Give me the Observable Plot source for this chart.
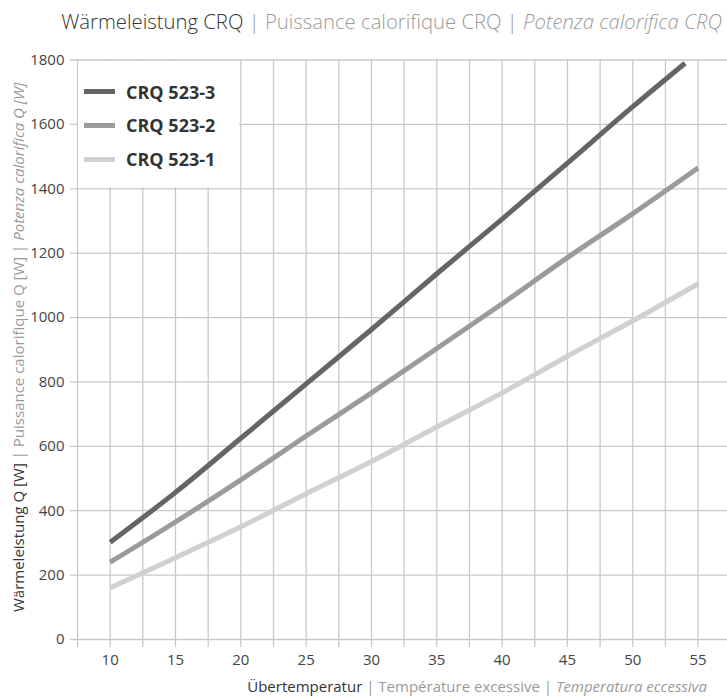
<!DOCTYPE html>
<html><head><meta charset="utf-8">
<script src="https://cdn.jsdelivr.net/npm/d3@7"></script>
<script src="https://cdn.jsdelivr.net/npm/@observablehq/plot@0.6"></script>
<style>
body{margin:0;background:#fff;font-family:"Open Sans",sans-serif;}
#wrap{position:relative;width:727px;height:699px;overflow:hidden;background:#fff;}
#wrap svg{position:absolute;left:0;top:0;}
.dark{color:#333}.grey{color:#9a9a9a}.it{font-style:italic}
#title{position:absolute;right:5px;top:8.4px;font-size:20.3px;font-weight:300;white-space:nowrap;line-height:26px;}
#xlabel{position:absolute;right:20px;top:676px;font-size:15px;white-space:nowrap;line-height:20px;}
#ylabel{position:absolute;left:8px;top:612px;font-size:15px;white-space:nowrap;line-height:20px;transform-origin:0 0;transform:rotate(-90deg);}
#legend{position:absolute;background:#fff;}
.item{position:absolute;left:6px;height:24px;display:flex;align-items:center;font-weight:700;font-size:18px;color:#333;white-space:nowrap;}
.sw{width:31px;height:5px;margin-right:11px;}
</style></head>
<body>
<div id="wrap">
  <div id="title"><span class="dark">Wärmeleistung CRQ</span><span class="grey"> | Puissance calorifique CRQ | </span><span class="grey it">Potenza calorifica CRQ</span></div>
  <div id="ylabel"><span class="dark">Wärmeleistung Q [W]</span><span class="grey"> | Puissance calorifique Q [W] | </span><span class="grey it">Potenza calorifica Q [W]</span></div>
  <div id="xlabel"><span class="dark">Übertemperatur</span><span class="grey"> | Température excessive | </span><span class="grey it">Temperatura eccessiva</span></div>
</div>
<script>
const seriesNames = ["CRQ 523-3", "CRQ 523-2", "CRQ 523-1"];
const seriesColors = ["#656565", "#9b9b9b", "#d0d0d0"];
const x3 = [10, 15, 20, 25, 30, 35, 40, 45, 50, 54];
const crq3 = [302, 457, 625, 794, 963, 1136, 1306, 1480, 1655, 1790];
const x2 = [10, 15, 20, 25, 30, 35, 40, 45, 50, 55];
const crq2 = [240, 365, 496, 632, 766, 904, 1043, 1186, 1323, 1465];
const x1 = [10, 15, 20, 25, 30, 35, 40, 45, 50, 55];
const crq1 = [160, 254, 350, 453, 553, 660, 766, 880, 990, 1105];
const xTicks = [10, 15, 20, 25, 30, 35, 40, 45, 50, 55];
const xGrid = [7.5, 10, 12.5, 15, 17.5, 20, 22.5, 25, 27.5, 30, 32.5, 35, 37.5, 40, 42.5, 45, 47.5, 50, 52.5, 55, 57.5];
const yTicks = [0, 200, 400, 600, 800, 1000, 1200, 1400, 1600, 1800];

const seriesX = [x3, x2, x1];
const seriesY = [crq3, crq2, crq1];
const rows = seriesNames.map((s, i) => seriesX[i].map((x, j) => ({series: s, x, y: seriesY[i][j]})));

const gridColor = "#c9c9c9";
const chart = Plot.plot({
  width: 727, height: 699,
  marginTop: 59.5, marginBottom: 60, marginLeft: 77, marginRight: 0,
  x: {domain: [7.5, 57.25]},
  y: {domain: [0, 1800]},
  style: {fontFamily: "Open Sans, sans-serif", fontSize: "15px", color: "#444", background: "transparent"},
  marks: [
    Plot.gridX(xGrid, {stroke: gridColor, strokeOpacity: 1, strokeWidth: 1.3, insetBottom: -8}),
    Plot.gridY(yTicks, {stroke: gridColor, strokeOpacity: 1, strokeWidth: 1.3, insetLeft: -7}),
    Plot.axisX(xTicks, {tickSize: 0, tickPadding: 15, fontSize: 15, label: null, tickFormat: d => String(d)}),
    Plot.axisY(yTicks, {tickSize: 0, tickPadding: 13, fontSize: 15, label: null, tickFormat: d => String(d)}),
    ...rows.map((r, i) => Plot.line(r, {x: "x", y: "y", stroke: seriesColors[i], strokeWidth: 5, strokeLinecap: "butt", curve: "monotone-x"}))
  ]
});
const wrap = document.getElementById("wrap");
wrap.insertBefore(chart, wrap.firstChild);

const xs = chart.scale("x"), ys = chart.scale("y");
const L = xs.apply(7.5) + 1, R = xs.apply(20) - 1, T = ys.apply(1800) + 1, B = ys.apply(1400) - 1;
const leg = document.createElement("div");
leg.id = "legend";
Object.assign(leg.style, {left: L + "px", top: T + "px", width: (R - L) + "px", height: (B - T) + "px"});
seriesNames.forEach((s, i) => {
  const it = document.createElement("div");
  it.className = "item";
  it.style.top = (19 + i * 33.8) + "px";
  it.innerHTML = `<span class="sw" style="background:${seriesColors[i]}"></span><span>${s}</span>`;
  leg.appendChild(it);
});
wrap.appendChild(leg);
</script>
</body></html>
